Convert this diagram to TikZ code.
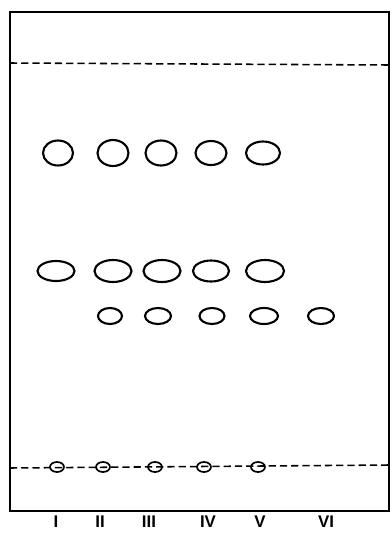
\documentclass[tikz,border=0pt]{standalone}
\usepackage{fontspec}
\setsansfont{Liberation Sans}
\usetikzlibrary{shapes.geometric}

\begin{document}
\begin{tikzpicture}[x=0.025cm,y=-0.025cm]
  \useasboundingbox (0,0) rectangle (391,534);
  % plate
  \draw[line width=1.7pt] (10,12) rectangle (389,511);
  \draw[line width=1.1pt,dash pattern=on 5pt off 3pt] (10,63) -- (389,65);
  \draw[line width=1.1pt,dash pattern=on 5pt off 3pt] (10,468) -- (389,465);
  % spots
  \tikzset{spot/.style={draw,ellipse,line width=1.5pt,inner sep=0pt}}
  \foreach \x/\w/\h [count=\i] in {58/30/25,113/31/26,161/31/25,211/31/24,263/34/23} {
    \node[spot,minimum width=\w*0.025cm,minimum height=\h*0.025cm] (a\i) at (\x,153) {};
  }
  \foreach \x/\w/\h [count=\i] in {56/37/20,113/37/22,162/37/22,211/36/21,265/38/22} {
    \node[spot,minimum width=\w*0.025cm,minimum height=\h*0.025cm] (b\i) at (\x,271) {};
  }
  \foreach \x/\w [count=\i] in {110/24,158/26,212/25,264/28,321/26} {
    \node[spot,minimum width=\w*0.025cm,minimum height=16*0.025cm] (c\i) at (\x,316) {};
  }
  \foreach \x [count=\i] in {57,103,155,204,258} {
    \node[spot,line width=1.2pt,minimum width=14*0.025cm,minimum height=10*0.025cm] (o\i) at (\x,467) {};
  }
  % lanes
  \foreach \x/\t in {56/I,100/II,149/III,208/IV,260/V,326/VI} {
    \node[font=\sffamily\bfseries\large] (l\t) at (\x,522) {\t};
  }
\end{tikzpicture}
\end{document}
